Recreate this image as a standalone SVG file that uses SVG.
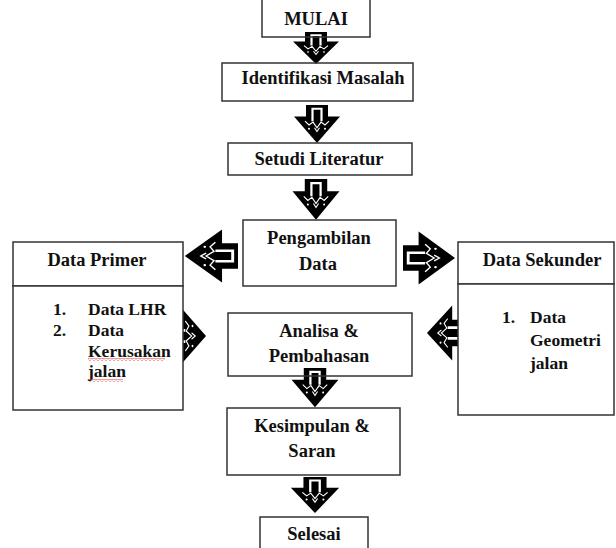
<svg xmlns="http://www.w3.org/2000/svg" xmlns:xlink="http://www.w3.org/1999/xlink" width="616" height="548" viewBox="0 0 616 548">
<style>
.box{fill:none;stroke:#333;stroke-width:1.5}
.boxw{fill:#fff;stroke:#333;stroke-width:1.5}
.t{font-family:"Liberation Serif","Times New Roman",serif;font-weight:bold;font-size:18.5px;fill:#111;text-anchor:middle}
.l{font-family:"Liberation Serif","Times New Roman",serif;font-weight:bold;font-size:17.5px;fill:#111}
</style>
<defs>
<g id="darrow">
<path d="M-11,0 H11 V12 H23 L0,40 L-23,12 H-11 Z" fill="#000"/>
<path d="M-4.5,17 V4 H4.5 V17" fill="none" stroke="#fff" stroke-width="2.2"/>
<path d="M-12,17 L-8,21 L-4,18 L0,24 L4,18 L8,21 L12,17" fill="none" stroke="#fff" stroke-width="1.1"/>
<path d="M-2.5,24 L0,28 L2.5,24" fill="none" stroke="#fff" stroke-width="1.1"/>
<circle cx="-8" cy="25" r="1" fill="#fff"/>
<circle cx="8" cy="25" r="1" fill="#fff"/>
</g>
<pattern id="wavy" width="4" height="3" patternUnits="userSpaceOnUse">
<path d="M0,2.5 L2,0.5 L4,2.5" fill="none" stroke="#d22" stroke-width="0.9"/>
</pattern>
</defs>
<g id="connectors">
<use xlink:href="#darrow" href="#darrow" transform="translate(316,32) scale(1,0.8)"/>
<use xlink:href="#darrow" href="#darrow" transform="translate(317,105) scale(1,0.95)"/>
<use xlink:href="#darrow" href="#darrow" transform="translate(316,179) scale(1.02,1.02)"/>
<use xlink:href="#darrow" href="#darrow" transform="translate(315,368) scale(1.02,0.98)"/>
<use xlink:href="#darrow" href="#darrow" transform="translate(315,477) scale(1.05,0.9)"/>
<use xlink:href="#darrow" href="#darrow" transform="translate(238,256) rotate(90) scale(1.15,1.33)"/>
<use xlink:href="#darrow" href="#darrow" transform="translate(403,258) rotate(-90) scale(1.15,1.3)"/>
<use xlink:href="#darrow" href="#darrow" transform="translate(170,336) rotate(-90) scale(1.25,0.9)"/>
<use xlink:href="#darrow" href="#darrow" transform="translate(463,333) rotate(90) scale(1.2,0.9)"/>
</g>
<g id="mulai"><rect class="box" x="262" y="-5" width="108" height="42"/><text class="t" x="316" y="25" font-size="20">MULAI</text></g>
<g id="identifikasi"><rect class="box" x="222" y="63" width="191" height="38"/><text class="t" x="323" y="84">Identifikasi  Masalah</text></g>
<g id="setudi"><rect class="box" x="228" y="143" width="184" height="32"/><text class="t" x="319" y="165">Setudi Literatur</text></g>
<g id="pengambilan"><rect class="box" x="243" y="220" width="153" height="66"/><text class="t" x="319" y="244">Pengambilan</text><text class="t" x="318" y="270">Data</text></g>
<g id="data-primer"><rect class="boxw" x="13" y="242" width="170" height="44"/><text class="t" x="97" y="266">Data Primer</text>
<rect class="boxw" x="13" y="286" width="170" height="124"/>
<text class="l" x="53" y="315">1.</text><text class="l" x="88" y="315">Data LHR</text>
<text class="l" x="53" y="336">2.</text><text class="l" x="88" y="336">Data</text>
<text class="l" x="88" y="357">Kerusakan</text><text class="l" x="88" y="377">jalan</text>
<rect x="88" y="358" width="77" height="3" fill="url(#wavy)"/>
<rect x="88" y="379" width="35" height="3" fill="url(#wavy)"/></g>
<g id="data-sekunder"><rect class="boxw" x="458" y="242" width="156" height="42"/><text class="t" x="542" y="266">Data Sekunder</text>
<rect class="boxw" x="458" y="284" width="156" height="131"/>
<text class="l" x="502" y="323">1.</text><text class="l" x="530" y="323">Data</text>
<text class="l" x="530" y="346">Geometri</text><text class="l" x="530" y="369">jalan</text></g>
<g id="analisa"><rect class="box" x="228" y="313" width="184" height="63"/><text class="t" x="319" y="337">Analisa &amp;</text><text class="t" x="319" y="362">Pembahasan</text></g>
<g id="kesimpulan"><rect class="box" x="227" y="408" width="173" height="67"/><text class="t" x="312" y="432">Kesimpulan &amp;</text><text class="t" x="312" y="457">Saran</text></g>
<g id="selesai"><rect class="box" x="260" y="517" width="108" height="45"/><text class="t" x="314" y="540">Selesai</text></g>
</svg>
